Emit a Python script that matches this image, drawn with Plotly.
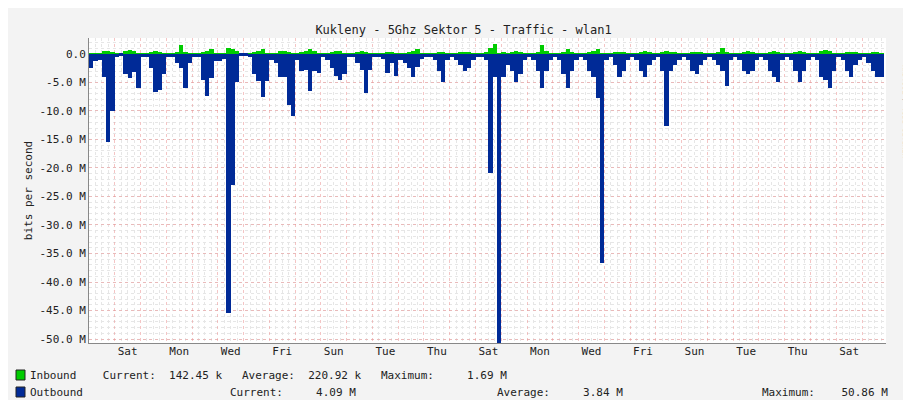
import plotly.graph_objects as go

# 4-hour slots, 6 per day, starting on a Friday
outbound = [
    -2.5, -1.2, -1.0, -4.0, -15.5, -10.0,
    -0.5, -0.3, -3.5, -4.2, -3.2, -6.0,
    -0.5, -0.5, -2.5, -6.7, -6.3, -3.5,
    -0.5, -0.5, -1.5, -2.5, -6.0, -1.5,
    -0.5, -0.5, -4.5, -7.3, -4.3, -1.2,
    -1.2, -0.8, -45.5, -23.0, -5.0, -0.3,
    -0.3, -0.5, -3.5, -4.8, -7.5, -4.8,
    -1.0, -1.5, -4.0, -4.0, -9.0, -10.8,
    -1.0, -3.0, -2.8, -6.5, -3.0, -3.3,
    -0.5, -1.0, -2.5, -3.8, -4.5, -3.5,
    -0.5, -0.5, -1.5, -2.8, -6.8, -2.8,
    -0.5, -0.5, -0.8, -3.3, -1.5, -3.8,
    -1.0, -1.5, -2.5, -4.0, -2.3, -0.8,
    -0.5, -0.5, -1.0, -3.0, -5.0, -1.0,
    -0.5, -1.0, -2.0, -3.0, -2.5, -1.0,
    -0.5, -0.5, -1.0, -20.8, -4.0, -50.86,
    -4.0, -2.0, -3.0, -5.0, -3.5, -1.0,
    -0.5, -1.0, -3.0, -6.0, -3.0, -1.0,
    -0.5, -1.0, -3.5, -6.0, -3.0, -1.0,
    -0.5, -1.0, -3.0, -4.0, -7.8, -36.7,
    -1.0, -0.5, -2.0, -4.0, -3.0, -1.0,
    -0.5, -1.0, -3.0, -4.0, -2.0, -1.0,
    -0.5, -3.0, -12.6, -3.0, -2.0, -1.0,
    -0.5, -1.0, -3.0, -3.5, -2.0, -1.0,
    -0.5, -1.0, -2.0, -3.0, -5.7, -1.0,
    -0.5, -1.0, -3.0, -3.5, -3.0, -1.0,
    -0.5, -1.0, -3.0, -4.0, -5.0, -1.0,
    -0.5, -1.0, -3.0, -5.0, -3.0, -1.0,
    -0.5, -1.0, -4.0, -4.5, -6.0, -3.0,
    -0.5, -1.0, -3.0, -4.0, -2.0, -1.0,
    -0.5, -1.5, -3.0, -4.0, -4.09,
]
inbound = [
    0.1, 0.1, 0.1, 0.6, 0.5, 0.4,
    0.1, 0.1, 0.5, 0.7, 0.6, 0.1,
    0.1, 0.1, 0.4, 0.5, 0.4, 0.1,
    0.1, 0.1, 0.2, 1.5, 0.4, 0.1,
    0.1, 0.1, 0.4, 0.5, 0.9, 0.1,
    0.1, 0.1, 1.0, 0.8, 0.5, 0.1,
    0.1, 0.1, 0.2, 0.5, 0.9, 0.1,
    0.1, 0.1, 0.5, 0.5, 0.4, 0.1,
    0.1, 0.4, 0.5, 0.9, 0.5, 0.1,
    0.1, 0.1, 0.3, 0.6, 0.6, 0.1,
    0.1, 0.1, 0.3, 0.5, 0.4, 0.1,
    0.1, 0.1, 0.1, 0.3, 0.3, 0.1,
    0.1, 0.1, 0.4, 0.6, 0.9, 0.1,
    0.1, 0.1, 0.1, 0.4, 0.3, 0.1,
    0.1, 0.1, 0.2, 0.3, 0.2, 0.1,
    0.1, 0.1, 0.3, 1.0, 1.69, 0.1,
    0.3, 0.1, 0.4, 0.6, 0.4, 0.1,
    0.1, 0.1, 0.4, 1.5, 0.5, 0.1,
    0.1, 0.1, 0.3, 0.9, 0.4, 0.1,
    0.1, 0.1, 0.4, 0.5, 0.9, 0.1,
    0.1, 0.1, 0.3, 0.4, 0.3, 0.1,
    0.1, 0.1, 0.3, 0.5, 0.3, 0.1,
    0.1, 0.2, 0.5, 0.4, 0.3, 0.1,
    0.1, 0.1, 0.3, 0.4, 0.4, 0.1,
    0.1, 0.1, 0.3, 1.0, 0.4, 0.1,
    0.1, 0.1, 0.3, 0.5, 0.3, 0.1,
    0.1, 0.1, 0.4, 0.5, 0.4, 0.1,
    0.1, 0.1, 0.3, 0.6, 0.4, 0.1,
    0.1, 0.1, 0.5, 0.7, 0.5, 0.1,
    0.1, 0.1, 0.3, 0.4, 0.3, 0.1,
    0.1, 0.1, 0.2, 0.2, 0.14,
]
day_labels = ["Sat", "Mon", "Wed", "Fri", "Sun", "Tue", "Thu", "Sat",
              "Mon", "Wed", "Fri", "Sun", "Tue", "Thu", "Sat"]
day_pos = [1.5 + 2 * i for i in range(len(day_labels))]
y_ticks = [0, -5, -10, -15, -20, -25, -30, -35, -40, -45, -50]
y_text = ["0.0"] + ["%.1f M" % v for v in y_ticks[1:]]

step = 1 / 6
x_out = [i * step + step / 2 for i in range(len(outbound))]
x_in = [i * step + step / 2 for i in range(len(inbound))]

FONT = "DejaVu Sans Mono"
L, R, T, B = 81, 33, 30, 65
PW, PH = 911 - L - R, 400 - T - B


def px_x(x):
    return (x - L) / PW


def px_y(y):
    return (400 - y - B) / PH


fig = go.Figure()
fig.add_trace(go.Bar(x=x_in, y=inbound, width=step, marker_color="#00cc00",
                     marker_line_width=0, showlegend=False))
fig.add_trace(go.Bar(x=x_out, y=outbound, width=step, marker_color="#002a97",
                     marker_line_width=0, showlegend=False))
fig.add_trace(go.Scatter(x=[0], y=[0], xaxis="x2", mode="markers",
                         marker_opacity=0, showlegend=False, hoverinfo="skip"))

xr = [0, 30.93]
fig.update_layout(
    width=911, height=400, barmode="overlay", bargap=0,
    paper_bgcolor="#f3f3f3", plot_bgcolor="white",
    margin=dict(l=L, r=R, t=T, b=B),
    font=dict(family=FONT, size=11, color="#222"),
    title=dict(text="Kukleny - 5Ghz Sektor 5 - Traffic - wlan1", x=0.5,
               y=0.955, xanchor="center", font=dict(size=12)),
    xaxis=dict(range=xr, dtick=1, tick0=0, showticklabels=False, automargin=False,
               showgrid=True, gridcolor="rgba(235,150,150,0.55)", griddash="dot",
               minor=dict(dtick=0.25, showgrid=True, gridcolor="#e6e6e6", griddash="dot"),
               showline=True, linecolor="#888", ticks="", zeroline=False),
    xaxis2=dict(range=xr, overlaying="x", side="bottom", tickvals=day_pos, automargin=False,
                ticktext=day_labels, showgrid=False, ticks="", tickfont=dict(size=11)),
    yaxis=dict(range=[-50.7, 2.8], tickvals=y_ticks, ticktext=y_text, automargin=False,
               showgrid=True, gridcolor="rgba(235,150,150,0.55)", griddash="dot",
               minor=dict(dtick=1, showgrid=True, gridcolor="#e6e6e6", griddash="dot"),
               showline=True, linecolor="#888", zeroline=False, ticks="",
               title=dict(text="bits per second", standoff=4, font=dict(size=11))),
)

legend_rows = [
    (20, 367, "Inbound    Current:  142.45 k   Average:  220.92 k   Maximum:     1.69 M"),
    (20, 384, "Outbound"),
    (220, 384, "Current:     4.09 M"),
    (487, 384, "Average:     3.84 M"),
    (752, 384, "Maximum:    50.86 M"),
]
for xp, yp, txt in legend_rows:
    fig.add_annotation(xref="paper", yref="paper", xanchor="left", yanchor="middle",
                       showarrow=False, font=dict(size=11, family=FONT),
                       x=px_x(xp), y=px_y(yp), text=txt)
fig.add_annotation(xref="paper", yref="paper", x=px_x(903), y=px_y(55),
                   text="RRDTOOL / TOBI OETIKER", textangle=90, showarrow=False,
                   yanchor="top", font=dict(size=7, color="#aaaaaa", family=FONT))
# legend swatches
for ypx, col in [(367, "#00cc00"), (384, "#002a97")]:
    fig.add_shape(type="rect", xref="paper", yref="paper",
                  x0=px_x(8), x1=px_x(17), y0=px_y(ypx + 5), y1=px_y(ypx - 5),
                  fillcolor=col, line=dict(color="#222", width=1))

fig.write_html("out.html")
